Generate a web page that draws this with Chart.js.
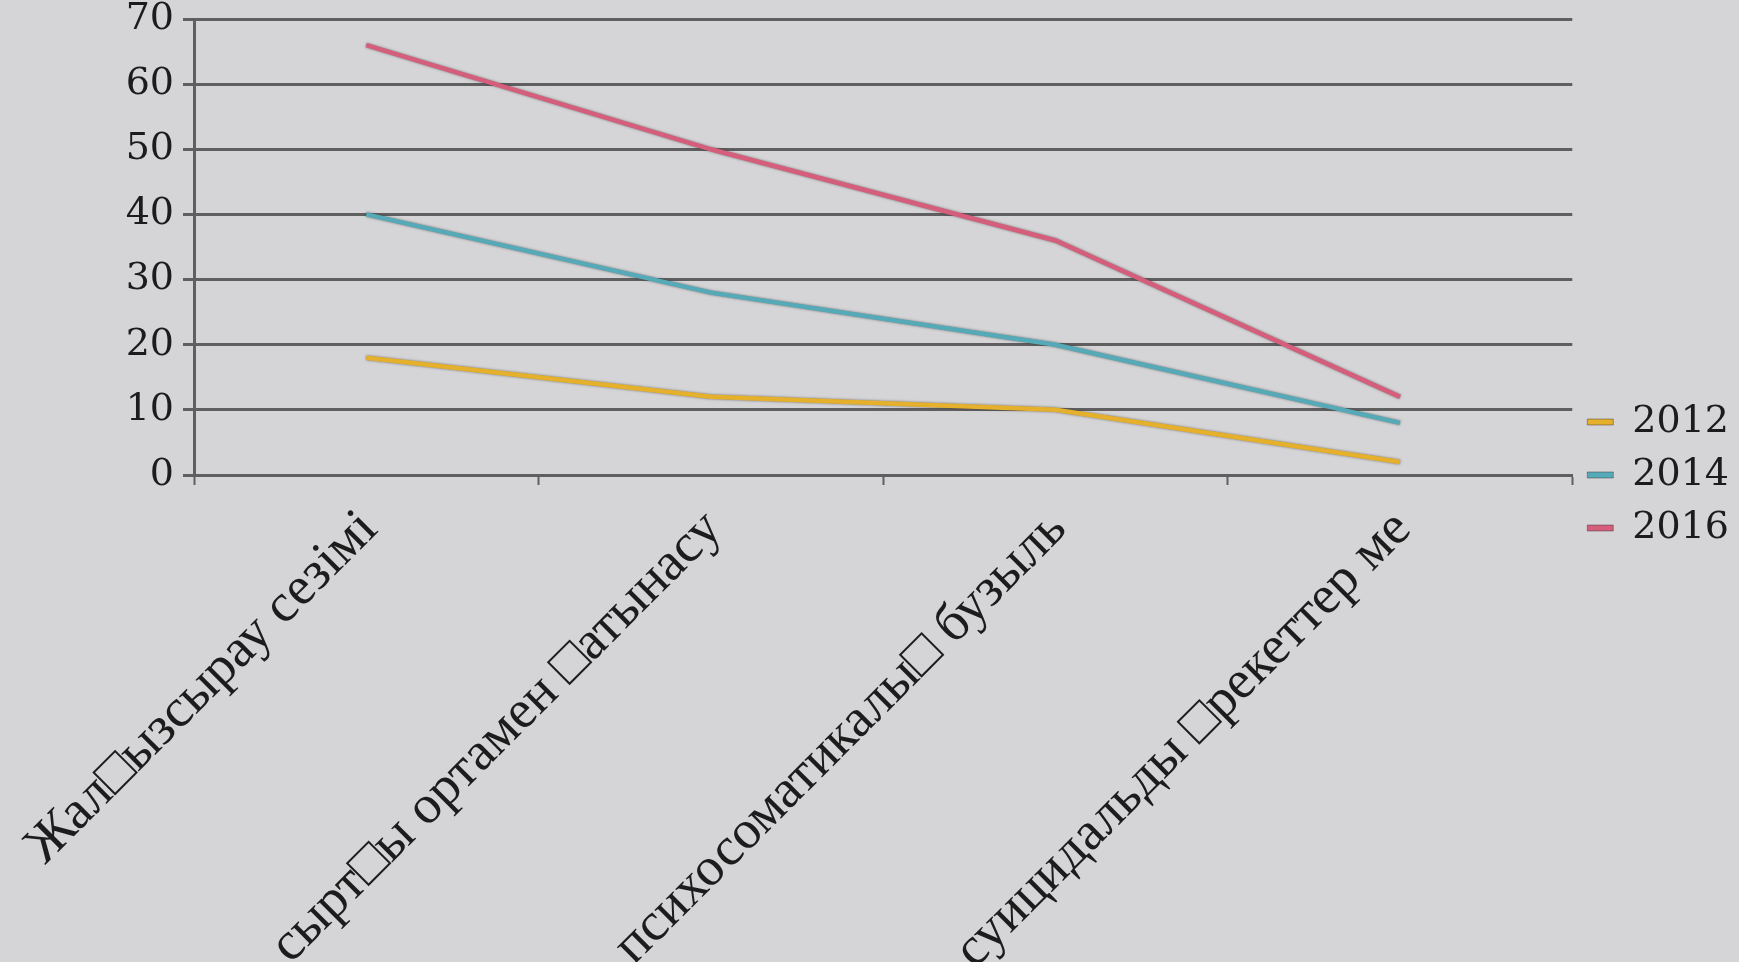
<!DOCTYPE html>
<html>
<head>
<meta charset="utf-8">
<script src="https://cdn.jsdelivr.net/npm/chart.js@4.4.1/dist/chart.umd.min.js"></script>
<style>
  html, body { margin: 0; padding: 0; background: #d5d5d7; overflow: hidden; }
  #wrap { width: 1739px; height: 962px; }
  canvas { display: block; }
</style>
</head>
<body>
<div id="wrap"><canvas id="chart" width="1739" height="962"></canvas></div>
<script>
// Category labels (x axis)
const categories = [
  'Жал□ызсырау сезімі',
  'сырт□ы ортамен □атынасу',
  'психосоматикалы□ бузыль',
  'суицидальды □рекеттер ме'
];

// Series
const seriesNames = ['2012', '2014', '2016'];
const values2012 = [18, 12, 10, 2];
const values2014 = [40, 28, 20, 8];
const values2016 = [66, 50, 36, 12];

// Value axis range
const yMin = 0;
const yMax = 70;
const yStep = 10;

const seriesColors = ['#e5b02b', '#56aab8', '#d45e7c'];
const gridColor = '#5f5f5f';
const textColor = '#1c1c1c';

// Soft dark edge along each series line
const lineEdge = {
  id: 'lineEdge',
  beforeDatasetDraw(chart) {
    const ctx = chart.ctx;
    ctx.save();
    ctx.shadowColor = 'rgba(50,40,40,0.6)';
    ctx.shadowBlur = 2.5;
  },
  afterDatasetDraw(chart) {
    chart.ctx.restore();
  }
};

// Legend sits beside the bottom of the plot, middle row on the base line
const legendPlacement = {
  id: 'legendPlacement',
  afterLayout(chart) {
    const lg = chart.legend;
    if (!lg) return;
    const pad = lg.options.labels.padding;
    const fs = lg.options.labels.font.size;
    const midY = chart.chartArea.bottom;
    lg.top = midY - (fs + pad) - fs / 2 - pad;
    lg.bottom = chart.height;
  }
};

const serifDigits = "'DejaVu Serif', serif";

new Chart(document.getElementById('chart'), {
  type: 'line',
  data: {
    labels: categories,
    datasets: [values2012, values2014, values2016].map((vals, i) => ({
      label: seriesNames[i],
      data: vals,
      borderColor: seriesColors[i],
      backgroundColor: seriesColors[i],
      borderWidth: 4.5,
      pointRadius: 0,
      pointHoverRadius: 0,
      tension: 0,
      fill: false
    }))
  },
  options: {
    responsive: false,
    animation: false,
    devicePixelRatio: 1,
    layout: { padding: { top: 19, right: 0, bottom: 0, left: 0 } },
    plugins: {
      tooltip: { enabled: false },
      legend: {
        position: 'right',
        align: 'start',
        labels: {
          boxWidth: 26,
          boxHeight: 6,
          padding: 15,
          color: textColor,
          font: { family: serifDigits, size: 38, lineHeight: 1.1 },
          generateLabels(chart) {
            const items = Chart.defaults.plugins.legend.labels.generateLabels(chart);
            items.forEach(it => {
              it.fillStyle = chart.data.datasets[it.datasetIndex].borderColor;
              it.strokeStyle = 'rgba(60,50,50,0.45)';
              it.lineWidth = 1;
            });
            return items;
          }
        }
      }
    },
    scales: {
      x: {
        type: 'category',
        offset: true,
        grid: {
          offset: true,
          drawOnChartArea: false,
          drawTicks: true,
          tickLength: 10,
          tickWidth: 2,
          tickColor: gridColor
        },
        border: { display: true, color: gridColor, width: 3 },
        ticks: {
          autoSkip: false,
          minRotation: 45,
          maxRotation: 45,
          padding: 13,
          labelOffset: 3,
          color: textColor,
          font: { family: "'Liberation Serif', 'DejaVu Serif', serif", size: 54, lineHeight: 1.2 }
        },
        afterFit(scale) {
          scale.height = 487;
          scale.paddingLeft = 0;
          scale.paddingRight = 0;
        }
      },
      y: {
        min: yMin,
        max: yMax,
        grid: {
          color: gridColor,
          lineWidth: 3,
          tickLength: 11,
          tickColor: gridColor,
          tickWidth: 3
        },
        border: { display: true, color: gridColor, width: 3 },
        ticks: {
          stepSize: yStep,
          padding: 9,
          color: textColor,
          font: { family: serifDigits, size: 38, lineHeight: 1.1 }
        },
        afterFit(scale) {
          scale.width = 194;
          scale.paddingTop = 0;
          scale.paddingBottom = 0;
        }
      }
    }
  },
  plugins: [lineEdge, legendPlacement]
});
</script>
</body>
</html>
